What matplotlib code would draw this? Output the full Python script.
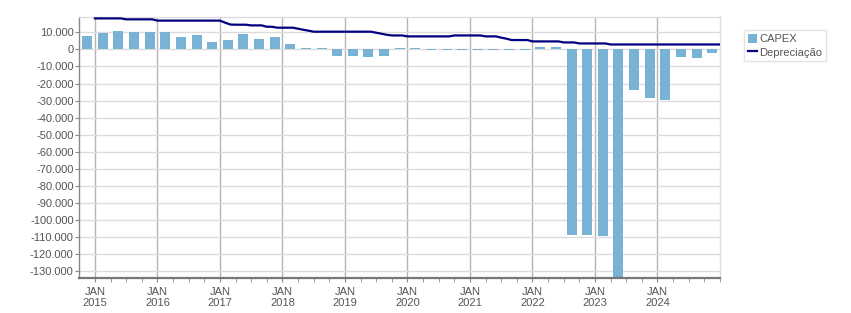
import matplotlib
matplotlib.use("Agg")
import matplotlib.pyplot as plt
import numpy as np
from matplotlib.ticker import FuncFormatter, FixedLocator
from matplotlib.lines import Line2D
from matplotlib.patches import Patch

plt.rcParams['font.family'] = ['Liberation Sans', 'DejaVu Sans']

# ---- data ----
years = ["2015", "2016", "2017", "2018", "2019", "2020", "2021", "2022", "2023", "2024"]
capex = [8000, 9800, 11000, 10200, 10200, 10400, 7450, 8600, 4300, 5500,
         9000, 6300, 7450, 3200, 700, 700, -3700, -3700, -4500, -3700,
         700, 700, -400, -400, -400, -400, -400, -400, -400, 1400,
         1400, -108800, -108800, -109400, -145000, -23700, -28400, -29700, -4300, -4900,
         -2000]
depreciacao = [
    18200, 18200, 18200, 18200, 18200, 18200, 17650, 17650, 17650, 17650, 17650, 17650,  # 2015
    16900, 16900, 16900, 16900, 16900, 16900, 16900, 16900, 16900, 16900, 16900, 16900,  # 2016
    16900, 15700, 14600, 14500, 14500, 14500, 14100, 14100, 14100, 13300, 13300, 12750,  # 2017
    12750, 12750, 12750, 12150, 11550, 11000, 10400, 10400, 10400, 10400, 10400, 10400,  # 2018
    10400, 10400, 10400, 10400, 10400, 10400, 9800, 9200, 8600, 8200, 8200, 8200,        # 2019
    7650, 7650, 7650, 7650, 7650, 7650, 7650, 7650, 7650, 8200, 8200, 8200,              # 2020
    8200, 8200, 8200, 7650, 7650, 7650, 6900, 6300, 5500, 5500, 5500, 5500,              # 2021
    4700, 4700, 4700, 4700, 4700, 4700, 4100, 4100, 4100, 3500, 3500, 3500,              # 2022
    3500, 3500, 3500, 2900, 2900, 2900, 2900, 2900, 2900, 2900, 2900, 2900,              # 2023
    2900, 2900, 2900, 2900, 2900, 2900, 2900, 2900, 2900, 2900, 2900, 2900,              # 2024
    2900,
]

bar_color = "#78b2d4"
line_color = "#000080"
text_color = "#555555"

fig = plt.figure(figsize=(8.51, 3.13), dpi=100)
ax = fig.add_axes([79.3 / 851, 1 - 278.3 / 313, (720 - 79.3) / 851, (278.3 - 16.7) / 313])

xb = np.arange(len(capex))
ax.bar(xb, capex, width=0.64, color=bar_color, zorder=3)

xm = 0.5 + np.arange(len(depreciacao)) / 3.0
ax.plot(xm, depreciacao, color=line_color, lw=1.6, zorder=4, solid_joinstyle='miter')

ax.set_xlim(-0.5, 40.5)
ax.set_ylim(-134300, 19200)

yt = np.arange(-130000, 10001, 10000)
ax.yaxis.set_major_locator(FixedLocator(yt))
ax.yaxis.set_major_formatter(FuncFormatter(lambda v, p: f"{v:,.0f}".replace(",", ".")))

major = [0.5 + 4 * k for k in range(len(years))]
ax.set_xticks(major)
ax.set_xticklabels([f"JAN\n{y}" for y in years])
ax.set_xticks([0.5 + k for k in range(41)], minor=True)

ax.grid(axis='y', color="#dcdcdc", lw=1, zorder=0)
ax.grid(axis='x', which='major', color="#b4b4b4", lw=1, zorder=0)
ax.set_axisbelow(True)

ax.tick_params(axis='y', length=3, color="#888888", labelsize=8, labelcolor=text_color, pad=1)
ax.tick_params(axis='x', which='both', length=3, color="#888888", labelsize=8,
               labelcolor=text_color, pad=3)

for s in ['top', 'right']:
    ax.spines[s].set_color("#dddddd")
    ax.spines[s].set_linewidth(1)
ax.spines['left'].set_color("#888888")
ax.spines['left'].set_linewidth(1)
ax.spines['bottom'].set_color("#777777")
ax.spines['bottom'].set_linewidth(1.6)
ax.spines['bottom'].set_zorder(5)

handles = [Patch(facecolor=bar_color, edgecolor='none', label="CAPEX"),
           Line2D([0], [0], color=line_color, lw=1.6, label="Depreciação")]
leg = fig.legend(handles=handles, loc='upper left', bbox_to_anchor=(744 / 851, 1 - 30 / 313),
                 fontsize=8, frameon=True, fancybox=False, edgecolor="#dddddd",
                 handlelength=0.8, handleheight=0.9, handletextpad=0.25, borderpad=0.35,
                 labelspacing=0.25, borderaxespad=0)
leg.get_frame().set_linewidth(1)
for t in leg.get_texts():
    t.set_color(text_color)

fig.savefig("out.png", dpi=100)
